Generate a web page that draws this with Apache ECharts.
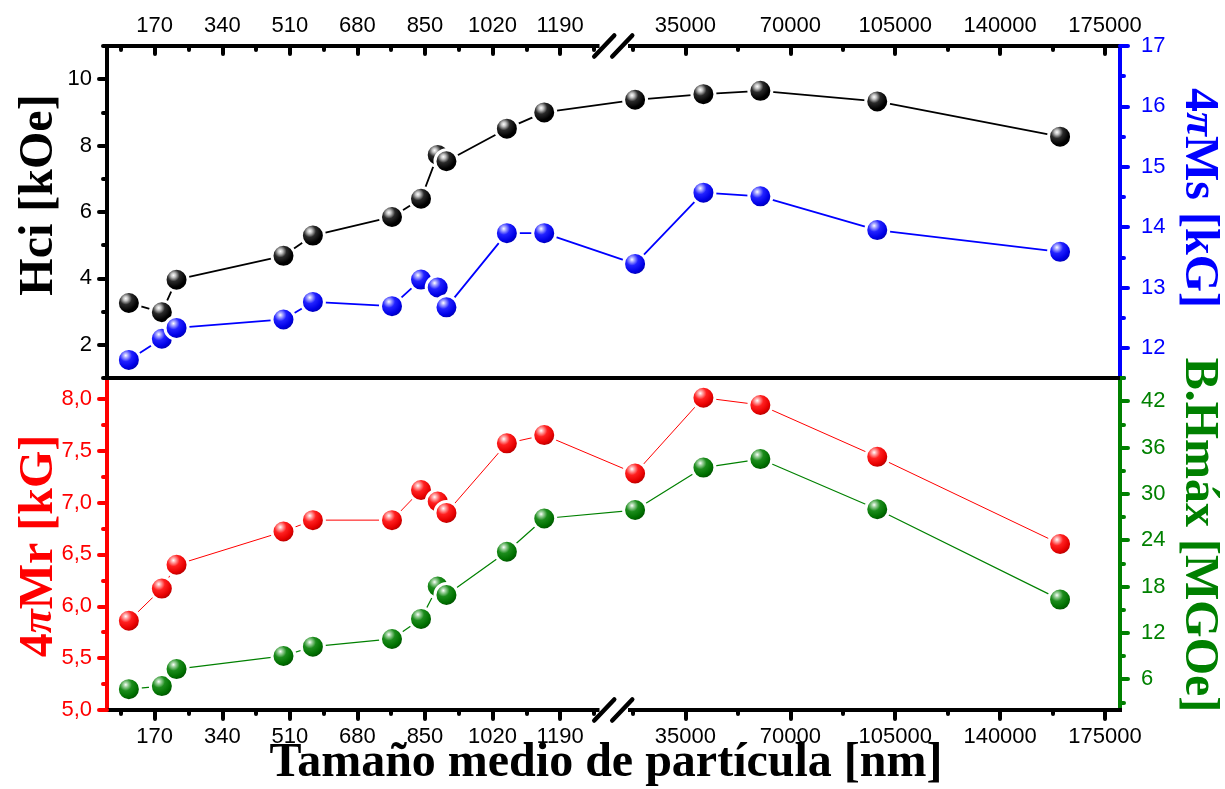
<!DOCTYPE html>
<html>
<head>
<meta charset="utf-8">
<script src="https://cdn.jsdelivr.net/npm/echarts@6/dist/echarts.min.js"></script>
<style>
  html, body { margin: 0; padding: 0; background: #fff; }
  #chart { width: 1225px; height: 789px; }
</style>
</head>
<body>
<div id="chart"></div>
<script>
// Mean particle size (nm) of each powder sample
const sizes = [105, 188, 225, 494, 568, 767, 840, 882, 904, 1056, 1150, 18200, 41000, 60000, 99000, 160000];
// Intrinsic coercivity Hci (kOe)
const hci = [3.26, 2.98, 3.96, 4.68, 5.29, 5.85, 6.40, 7.72, 7.53, 8.51, 9.00, 9.38, 9.55, 9.65, 9.33, 8.27];
// Saturation magnetisation 4πMs (kG)
const ms = [11.80, 12.15, 12.33, 12.47, 12.76, 12.69, 13.13, 13.00, 12.67, 13.90, 13.90, 13.39, 14.57, 14.51, 13.95, 13.59];
// Remanence 4πMr (kG)
const mr = [5.86, 6.17, 6.40, 6.72, 6.83, 6.83, 7.12, 7.01, 6.90, 7.57, 7.65, 7.28, 8.01, 7.94, 7.44, 6.60];
// Maximum energy product (BH)max (MGOe)
const bh = [4.7, 5.1, 7.3, 9.0, 10.2, 11.2, 13.8, 18.0, 16.9, 22.5, 26.8, 27.9, 33.4, 34.5, 28.0, 16.3];

// Tick values of the broken size axis and of the four value axes
const lowTicks = [170, 340, 510, 680, 850, 1020, 1190];
const lowMinor = [85, 255, 425, 595, 765, 935, 1105, 1275];
const highTicks = [35000, 70000, 105000, 140000, 175000];
const highMinor = [17500, 52500, 87500, 122500, 157500];
const hciTicks = [2, 4, 6, 8, 10];
const hciMinor = [1, 3, 5, 7, 9, 11];
const msTicks = [12, 13, 14, 15, 16, 17];
const msMinor = [11.5, 12.5, 13.5, 14.5, 15.5, 16.5];
const mrTicks = [5.0, 5.5, 6.0, 6.5, 7.0, 7.5, 8.0];
const mrMinor = [5.25, 5.75, 6.25, 6.75, 7.25, 7.75];
const bhTicks = [6, 12, 18, 24, 30, 36, 42];
const bhMinor = [3, 9, 15, 21, 27, 33, 39, 45];

// Axis ranges
const lowRange = [50, 1284];
const highRange = [16500, 180000];
const hciRange = [1, 11];
const msRange = [11.5, 17];
const mrRange = [5, 8.2];
const bhRange = [2, 45];

const BLACK = '#000000', BLUE = '#0000ff', RED = '#ff0000', GREEN = '#008000';
const SANS = '"Liberation Sans", Arial, sans-serif';
const SERIF = '"Liberation Serif", "Times New Roman", serif';

// Layout of the two stacked panels, each split in two at the axis break
const LEFT = 107, LOW_W = 490.5, HIGH_LEFT = 630, HIGH_W = 490;
const TOP = 46, PANEL_H = 332;
const MID = TOP + PANEL_H, BOTTOM = MID + PANEL_H, RIGHT = HIGH_LEFT + HIGH_W;

const chart = echarts.init(document.getElementById('chart'));

const lowIdx = sizes.map((s, i) => i).filter(i => sizes[i] <= lowRange[1]);
const highIdx = sizes.map((s, i) => i).filter(i => sizes[i] >= highRange[0]);
const pick = (idx, vals) => idx.map(i => [sizes[i], vals[i]]);

const plainFmt = v => String(v);
const commaFmt = v => v.toFixed(1).replace('.', ',');

function xAxisMajor(gridIndex, position, range, ticks, inside, len) {
  return {
    type: 'value', gridIndex, position, min: range[0], max: range[1],
    axisLine: { show: true, onZero: false, lineStyle: { color: BLACK, width: 4, cap: 'square' } },
    axisTick: { show: true, inside, length: len, customValues: ticks,
      lineStyle: { color: BLACK, width: 4, cap: 'round' } },
    axisLabel: { show: true, customValues: ticks, margin: position === 'top' ? 9 : 16,
      color: BLACK, fontSize: 22, fontFamily: SANS, formatter: plainFmt },
    splitLine: { show: false }
  };
}
function xAxisMinor(gridIndex, position, range, ticks, inside, len) {
  return {
    type: 'value', gridIndex, position, min: range[0], max: range[1],
    axisLine: { show: false, onZero: false },
    axisTick: { show: true, inside, length: len, customValues: ticks,
      lineStyle: { color: BLACK, width: 4, cap: 'round' } },
    axisLabel: { show: false },
    splitLine: { show: false }
  };
}
function yAxisMajor(gridIndex, position, range, ticks, color, margin, fmt) {
  return {
    type: 'value', gridIndex, position, min: range[0], max: range[1],
    axisLine: { show: true, onZero: false, lineStyle: { color, width: 4, cap: 'square' } },
    axisTick: { show: true, inside: false, length: 8, customValues: ticks,
      lineStyle: { color, width: 4, cap: 'round' } },
    axisLabel: { show: true, customValues: ticks, margin, color, fontSize: 22, fontFamily: SANS,
      formatter: fmt || plainFmt },
    splitLine: { show: false }
  };
}
function yAxisMinor(gridIndex, position, range, ticks, color) {
  return {
    type: 'value', gridIndex, position, min: range[0], max: range[1],
    axisLine: { show: false, onZero: false },
    axisTick: { show: true, inside: false, length: 4, customValues: ticks,
      lineStyle: { color, width: 4, cap: 'round' } },
    axisLabel: { show: false },
    splitLine: { show: false }
  };
}
function yAxisHidden(gridIndex, position, range) {
  return { type: 'value', gridIndex, position, min: range[0], max: range[1], show: false,
    splitLine: { show: false } };
}

function sphere(c1, c2, c3, c4) {
  return new echarts.graphic.RadialGradient(0.38, 0.33, 0.62, [
    { offset: 0, color: '#ffffff' },
    { offset: 0.14, color: c1 },
    { offset: 0.38, color: c2 },
    { offset: 0.75, color: c3 },
    { offset: 1, color: c4 }
  ]);
}
const fills = {
  black: sphere('#c4c4c4', '#2a2a2a', '#000000', '#000000'),
  blue: sphere('#a8a8ff', '#2222ff', '#0000e6', '#0000a8'),
  red: sphere('#ffa8a8', '#ff2020', '#e60000', '#a80000'),
  green: sphere('#9fd29f', '#1c8c1c', '#007000', '#004c00')
};

function lineSeries(name, data, xi, yi, color, width, fill) {
  return {
    name, type: 'line', data, xAxisIndex: xi, yAxisIndex: yi, z: 3,
    symbol: 'circle', symbolSize: 23, showSymbol: true, showAllSymbol: true,
    lineStyle: { color, width },
    itemStyle: { color: fill, borderColor: '#ffffff', borderWidth: 3 },
    emphasis: { disabled: true }, silent: true, clip: false, animation: false
  };
}

// Segment that joins the last point before the break to the first one after it
function bridgeSeries(vals, xi, yi, lowX, lowY, color, width) {
  const a = lowIdx[lowIdx.length - 1], b = highIdx[0];
  return {
    type: 'custom', xAxisIndex: xi, yAxisIndex: yi, z: 1, silent: true, clip: false,
    data: [[sizes[b], vals[b], sizes[a], vals[a]]],
    encode: { x: 0, y: 1 },
    renderItem: function (params, api) {
      const p = chart.convertToPixel({ xAxisIndex: lowX, yAxisIndex: lowY }, [api.value(2), api.value(3)]);
      const q = api.coord([api.value(0), api.value(1)]);
      return { type: 'line', shape: { x1: p[0], y1: p[1], x2: q[0], y2: q[1] },
        style: { stroke: color, lineWidth: width } };
    },
    animation: false
  };
}

// Break marks: two slashes on the top and bottom frame lines
const gapMid = (LEFT + LOW_W + HIGH_LEFT) / 2;
const slashes = [];
[TOP, BOTTOM].forEach(y => {
  [gapMid - 9.5, gapMid + 8.5].forEach(cx => {
    slashes.push({ type: 'line', z: 50,
      shape: { x1: cx - 10, y1: y + 10.5, x2: cx + 10, y2: y - 10.5 },
      style: { stroke: BLACK, lineWidth: 4.5, lineCap: 'round' } });
  });
});

function title(text, x, y, rot, color, rich) {
  return { type: 'text', x, y, rotation: rot, z: 50,
    style: { text, align: 'center', verticalAlign: 'middle', fill: color,
      font: 'bold 48px ' + SERIF, rich } };
}
const piRich = color => ({
  n: { fill: color, fontSize: 48, fontWeight: 'bold', fontFamily: SERIF },
  p: { fill: color, fontSize: 44, fontWeight: 'bold', fontStyle: 'italic', fontFamily: SERIF }
});

const option = {
  backgroundColor: '#ffffff',
  animation: false,
  grid: [
    { left: LEFT, top: TOP, width: LOW_W, height: PANEL_H, outerBoundsMode: 'none' },
    { left: HIGH_LEFT, top: TOP, width: HIGH_W, height: PANEL_H, outerBoundsMode: 'none' },
    { left: LEFT, top: MID, width: LOW_W, height: PANEL_H, outerBoundsMode: 'none' },
    { left: HIGH_LEFT, top: MID, width: HIGH_W, height: PANEL_H, outerBoundsMode: 'none' }
  ],
  xAxis: [
    xAxisMajor(0, 'top', lowRange, lowTicks, true, 8),      // 0
    xAxisMinor(0, 'top', lowRange, lowMinor, true, 4),      // 1
    xAxisMajor(1, 'top', highRange, highTicks, true, 8),    // 2
    xAxisMinor(1, 'top', highRange, highMinor, true, 4),    // 3
    xAxisMajor(2, 'bottom', lowRange, lowTicks, false, 9),  // 4
    xAxisMinor(2, 'bottom', lowRange, lowMinor, false, 4),  // 5
    xAxisMajor(3, 'bottom', highRange, highTicks, false, 9),// 6
    xAxisMinor(3, 'bottom', highRange, highMinor, false, 4) // 7
  ],
  yAxis: [
    yAxisMajor(0, 'left', hciRange, hciTicks, BLACK, 15),   // 0
    yAxisMinor(0, 'left', hciRange, hciMinor, BLACK),       // 1
    yAxisHidden(0, 'right', msRange),                       // 2
    yAxisMajor(1, 'right', msRange, msTicks, BLUE, 21),     // 3
    yAxisMinor(1, 'right', msRange, msMinor, BLUE),         // 4
    yAxisHidden(1, 'left', hciRange),                       // 5
    yAxisMajor(2, 'left', mrRange, mrTicks, RED, 15, commaFmt), // 6
    yAxisMinor(2, 'left', mrRange, mrMinor, RED),           // 7
    yAxisHidden(2, 'right', bhRange),                       // 8
    yAxisMajor(3, 'right', bhRange, bhTicks, GREEN, 21),    // 9
    yAxisMinor(3, 'right', bhRange, bhMinor, GREEN),        // 10
    yAxisHidden(3, 'left', mrRange)                         // 11
  ],
  series: [
    lineSeries('Hci', pick(lowIdx, hci), 0, 0, BLACK, 1.8, fills.black),
    lineSeries('Hci', pick(highIdx, hci), 2, 5, BLACK, 1.8, fills.black),
    lineSeries('4πMs', pick(lowIdx, ms), 0, 2, BLUE, 1.8, fills.blue),
    lineSeries('4πMs', pick(highIdx, ms), 2, 3, BLUE, 1.8, fills.blue),
    lineSeries('4πMr', pick(lowIdx, mr), 4, 6, RED, 1, fills.red),
    lineSeries('4πMr', pick(highIdx, mr), 6, 11, RED, 1, fills.red),
    lineSeries('BHmax', pick(lowIdx, bh), 4, 8, GREEN, 1.2, fills.green),
    lineSeries('BHmax', pick(highIdx, bh), 6, 9, GREEN, 1.2, fills.green),
    bridgeSeries(hci, 2, 5, 0, 0, BLACK, 1.8),
    bridgeSeries(ms, 2, 3, 0, 2, BLUE, 1.8),
    bridgeSeries(mr, 6, 11, 4, 6, RED, 1),
    bridgeSeries(bh, 6, 9, 4, 8, GREEN, 1.2)
  ],
  graphic: [
    { type: 'line', z: 40, shape: { x1: LEFT - 2, y1: MID, x2: RIGHT, y2: MID },
      style: { stroke: BLACK, lineWidth: 4 } },
    ...slashes,
    title('Hci [kOe]', 40, 195, Math.PI / 2, BLACK),
    title('{n|4}{p|π}{n|Mr [kG]}', 40, 546, Math.PI / 2, RED, piRich(RED)),
    title('{n|4}{p|π}{n|Ms [kG]}', 1198, 198, -Math.PI / 2, BLUE, piRich(BLUE)),
    title('B.Hmáx [MGOe]', 1198, 535, -Math.PI / 2, GREEN),
    title('Tamaño medio de partícula [nm]', 606, 764, 0, BLACK)
  ]
};

chart.setOption(option);
</script>
</body>
</html>
